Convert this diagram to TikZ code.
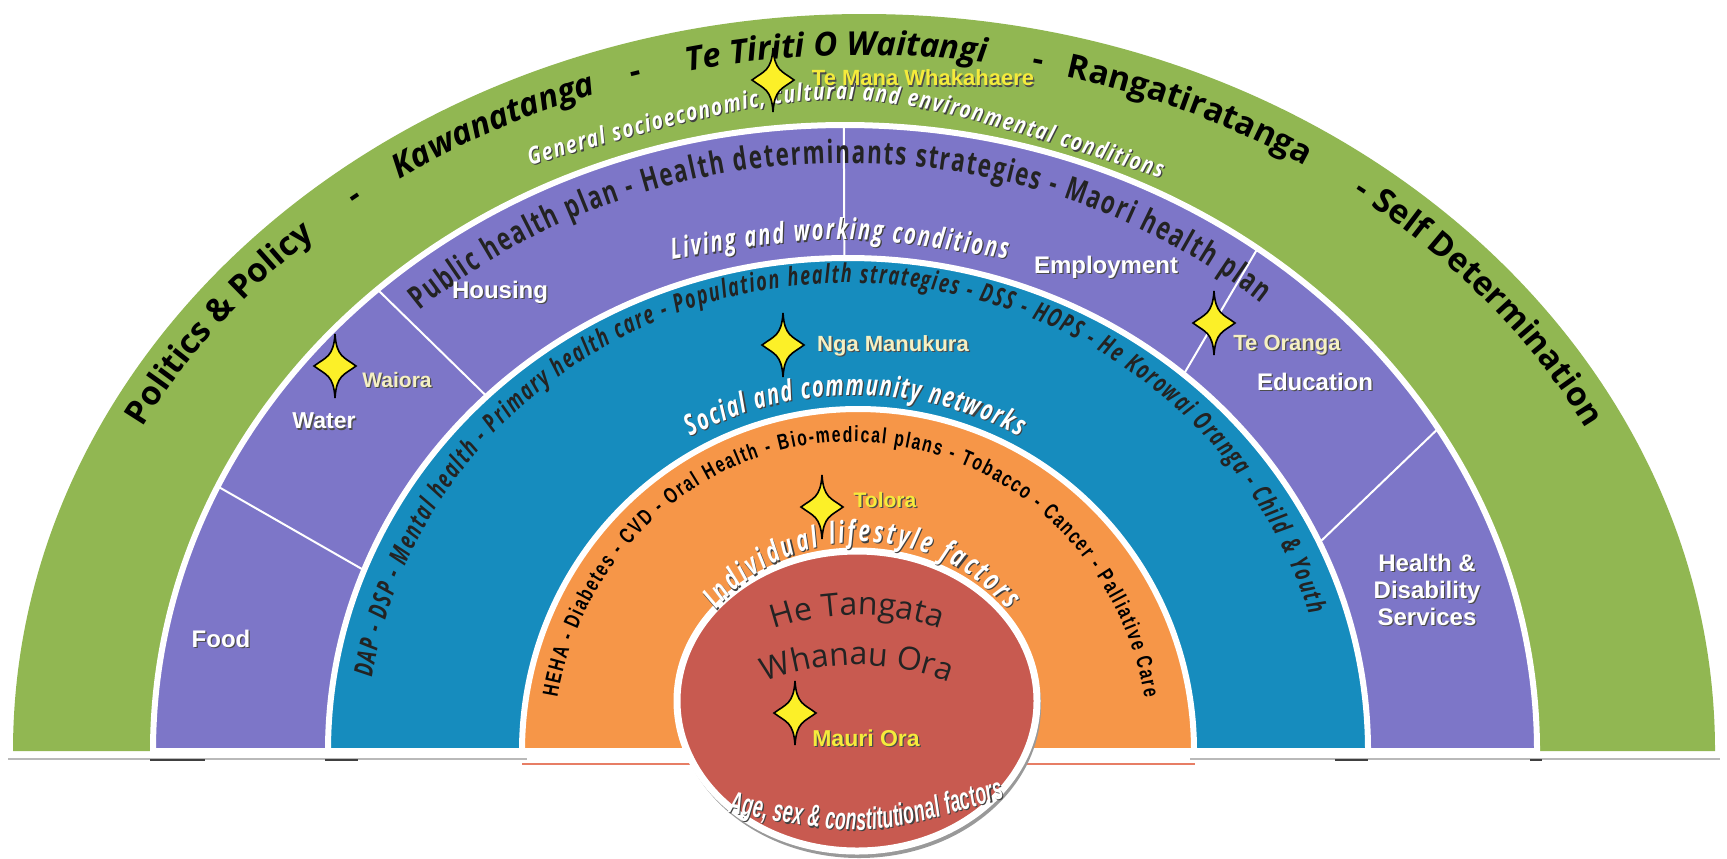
\documentclass[tikz,border=0pt]{standalone}
\usepackage{fontspec}
\setmainfont{Open Sans}
\newfontfamily\osc{Open Sans}[FakeStretch=0.8]
\newfontfamily\oscc{Open Sans}[FakeStretch=0.7]
\newfontfamily\arial{Liberation Sans}
\newfontfamily\arialn{Liberation Sans}[FakeStretch=0.72]
\newfontfamily\impactf{Liberation Sans}[FakeStretch=0.57]
\usetikzlibrary{calc,decorations.text}

\definecolor{cgreen}{RGB}{145,183,82}
\definecolor{cpurple}{RGB}{125,118,200}
\definecolor{cblue}{RGB}{22,140,190}
\definecolor{corange}{RGB}{246,150,72}
\definecolor{cred}{RGB}{200,90,80}
\definecolor{cyel}{RGB}{245,235,60}
\definecolor{ccream}{RGB}{245,240,195}
\definecolor{cstar}{RGB}{252,240,40}
\definecolor{cdark}{RGB}{35,35,35}

% elliptic arc: centre, rx, ry, from visual angle #4 to #5
\newcommand\earc[5]{($(#1)+(-#4:#2 and #3)$) arc[start angle=-#4,end angle=-#5,x radius=#2,y radius=#3]}
% outer green text segment
\newcommand\gseg[4]{\path[decorate,decoration={text along path,text align=center,text color=black,text={|#4|#3}}] \earc{864,751}{815}{696}{#1}{#2};}
% white text with dark shadow along a path
\newcommand\shtext[3]{%
\path[xshift=0.6pt,yshift=-0.6pt,decorate,decoration={text along path,#1,text color=black!75,text={#3}}] #2;
\path[decorate,decoration={text along path,#1,text color=white,text={#3}}] #2;}
% straight label with shadow
\newcommand\lab[6]{%
\node[font=\arial\bfseries\fontsize{#3}{#4}\selectfont,text=black!70,align=center,inner sep=0pt] at ($(#2)+(1.3,1.3)$) {#6};
\node[font=\arial\bfseries\fontsize{#3}{#4}\selectfont,text=#5,align=center,inner sep=0pt] (#1) at (#2) {#6};}

\tikzset{
  star4/.pic={\filldraw[fill=cstar,draw=black,line width=0.8pt]
    (0,-32) .. controls (1.5,-9) and (9,-9) .. (21,0)
    .. controls (9,9) and (1.5,9) .. (0,32)
    .. controls (-1.5,9) and (-9,9) .. (-21,0)
    .. controls (-9,-9) and (-1.5,-9) .. (0,-32) -- cycle;},
  divider/.style={white,line width=1pt},
  bandedge/.style={draw=white,line width=3pt}
}

\begin{document}
\begin{tikzpicture}[x=0.5pt,y=-0.5pt]
\useasboundingbox (0,0) rectangle (1727,858);
\fill[white] (0,0) rectangle (1727,858);

% bottom shadow lines
\draw[line width=1.4pt,gray!55] (8,759) -- (527,759);
\draw[line width=1.4pt,gray!55] (1190,759) -- (1720,759);
\draw[line width=1.4pt,black!75] (150,760) -- (205,760);
\draw[line width=1.4pt,black!75] (325,760) -- (358,760);
\draw[line width=1.4pt,black!75] (1335,760) -- (1368,760);
\draw[line width=1.4pt,black!75] (1530,760) -- (1542,760);
\draw[line width=1.2pt,red!45!brown!70] (522,764) -- (700,764);
\draw[line width=1.2pt,red!45!brown!70] (1010,764) -- (1195,764);

% bands
\fill[cgreen] (13,751) arc[start angle=180,end angle=360,x radius=851,y radius=737] -- cycle;
\filldraw[fill=cpurple,bandedge] (153,751) arc[start angle=180,end angle=360,x radius=692,y radius=626] -- cycle;
\filldraw[fill=cblue,bandedge] (328,751) arc[start angle=180,end angle=360,x radius=520,y radius=493] -- cycle;
\filldraw[fill=corange,bandedge] (522,751) arc[start angle=180,end angle=360,x radius=336,y radius=342] -- cycle;

% dividers in purple band
\foreach \a/\b [count=\i] in {155/158.5,132.5/134,90.1/90.4,53.4/49.8,31/25}{
  \coordinate (do\i) at ($(845,751)+(-\a:692 and 626)$);
  \coordinate (di\i) at ($(848,751)+(-\b:520 and 493)$);
  \draw[divider] (do\i) -- (di\i);
}

% centre ellipse
\fill[black!40] (859,706) ellipse[x radius=182,y radius=152];
\filldraw[fill=cred,draw=white,line width=3.5pt] (857,701) ellipse[x radius=180,y radius=150];

% outer green text
\gseg{168}{118}{Politics {\&} Policy}{\bfseries\fontsize{16.5}{19}\selectfont}
\gseg{154}{104}{-}{\bfseries\fontsize{16.5}{19}\selectfont}
\gseg{142.5}{92.5}{Kawanatanga}{\bfseries\itshape\fontsize{16.5}{19}\selectfont}
\gseg{131.5}{81.5}{-}{\bfseries\fontsize{16.5}{19}\selectfont}
\gseg{117}{67}{Te Tiriti O Waitangi}{\bfseries\itshape\fontsize{16.5}{19}\selectfont}
\gseg{102.5}{52.5}{-}{\bfseries\fontsize{16.5}{19}\selectfont}
\gseg{91}{41}{Rangatiratanga}{\bfseries\fontsize{16.5}{19}\selectfont}
\gseg{77}{27}{-}{\bfseries\fontsize{16.5}{19}\selectfont}
\gseg{64}{14}{Self Determination}{\bfseries\fontsize{16.5}{19}\selectfont}

% general conditions
\shtext{text align={fit to path}}{(530,165) .. controls (845,76) .. (1160,178)}{|\osc\bfseries\itshape\fontsize{12}{14}\selectfont|General socioeconomic, cultural and environmental conditions}

% purple band curved texts
\path[decorate,decoration={text align={fit to path},text along path,text color=cdark,
  text={|\oscc\bfseries\fontsize{16}{19}\selectfont|Public health plan - Health determinants strategies - Maori health plan}}]
  \earc{845,751}{642}{588}{131.5}{49.7};
\shtext{text align={fit to path}}{(672,259) .. controls (840,233) .. (1007,259)}{|\oscc\bfseries\itshape\fontsize{14.5}{17}\selectfont|Living and working conditions}

% blue band curved texts
\path[decorate,decoration={text along path,text align={fit to path},text color=cdark,
  text={|\oscc\bfseries\itshape\fontsize{13}{16}\selectfont|DAP - DSP - Mental health - Primary health care - Population health strategies - DSS - HOPS - He Korowai Oranga - Child {\&} Youth}}]
  \earc{848,751}{482}{468}{171}{17};
\shtext{text align={fit to path}}{\earc{855,751}{350}{356}{118}{62}}{|\oscc\bfseries\itshape\fontsize{14.5}{17}\selectfont|Social and community networks}

% orange band curved texts
\path[decorate,decoration={text along path,text align={fit to path},text color=black,
  text={|\arialn\bfseries\fontsize{11}{13}\selectfont|HEHA - Diabetes - CVD - Oral Health - Bio-medical plans - Tobacco - Cancer - Palliative Care}}]
  \earc{851,751}{298}{309}{170}{10};
\shtext{text align={fit to path}}{\earc{862,732}{190}{190}{140}{40}}{|\oscc\bfseries\itshape\fontsize{15}{17}\selectfont|Individual lifestyle factors}

% centre texts
\path[decorate,decoration={text along path,text align=center,text color=cdark,
  text={|\fontsize{16}{19}\selectfont|He Tangata}}] \earc{857,870}{255}{255}{110}{70};
\path[decorate,decoration={text along path,text align=center,text color=cdark,
  text={|\fontsize{16}{19}\selectfont|Whanau Ora}}] \earc{857,920}{255}{255}{110}{70};
\shtext{text align={fit to path}}{(728,812) .. controls (866,838) .. (1005,798)}{|\impactf\bfseries\itshape\fontsize{15.5}{18}\selectfont|Age, sex {\&} constitutional factors}

% stars
\pic (s1) at (773,80) {star4};
\pic (s2) at (335,366) {star4};
\pic (s3) at (783,345) {star4};
\pic (s4) at (1214,323) {star4};
\pic (s5) at (822,507) {star4};
\pic (s6) at (795,713) {star4};

% labels
\lab{temana}{923,78}{11}{13}{cyel}{Te Mana Whakahaere}
\lab{waiora}{397,380}{10.5}{12}{ccream}{Waiora}
\lab{water}{324,421}{11.5}{13}{white}{Water}
\lab{housing}{500,292}{12}{14}{white}{Housing}
\lab{food}{221,639}{12}{14}{white}{Food}
\lab{employment}{1106,267}{12}{14}{white}{Employment}
\lab{teoranga}{1287,345}{11}{13}{ccream}{Te Oranga}
\lab{education}{1315,382}{12}{14}{white}{Education}
\lab{health}{1427,590}{12}{13.5}{white}{Health \&\\Disability\\Services}
\lab{manukura}{893,346}{11}{13}{ccream}{Nga Manukura}
\lab{tolora}{885,500}{10.5}{12}{cyel}{Tolora}
\lab{mauri}{866,738}{11.5}{13}{cyel}{Mauri Ora}
\end{tikzpicture}
\end{document}
